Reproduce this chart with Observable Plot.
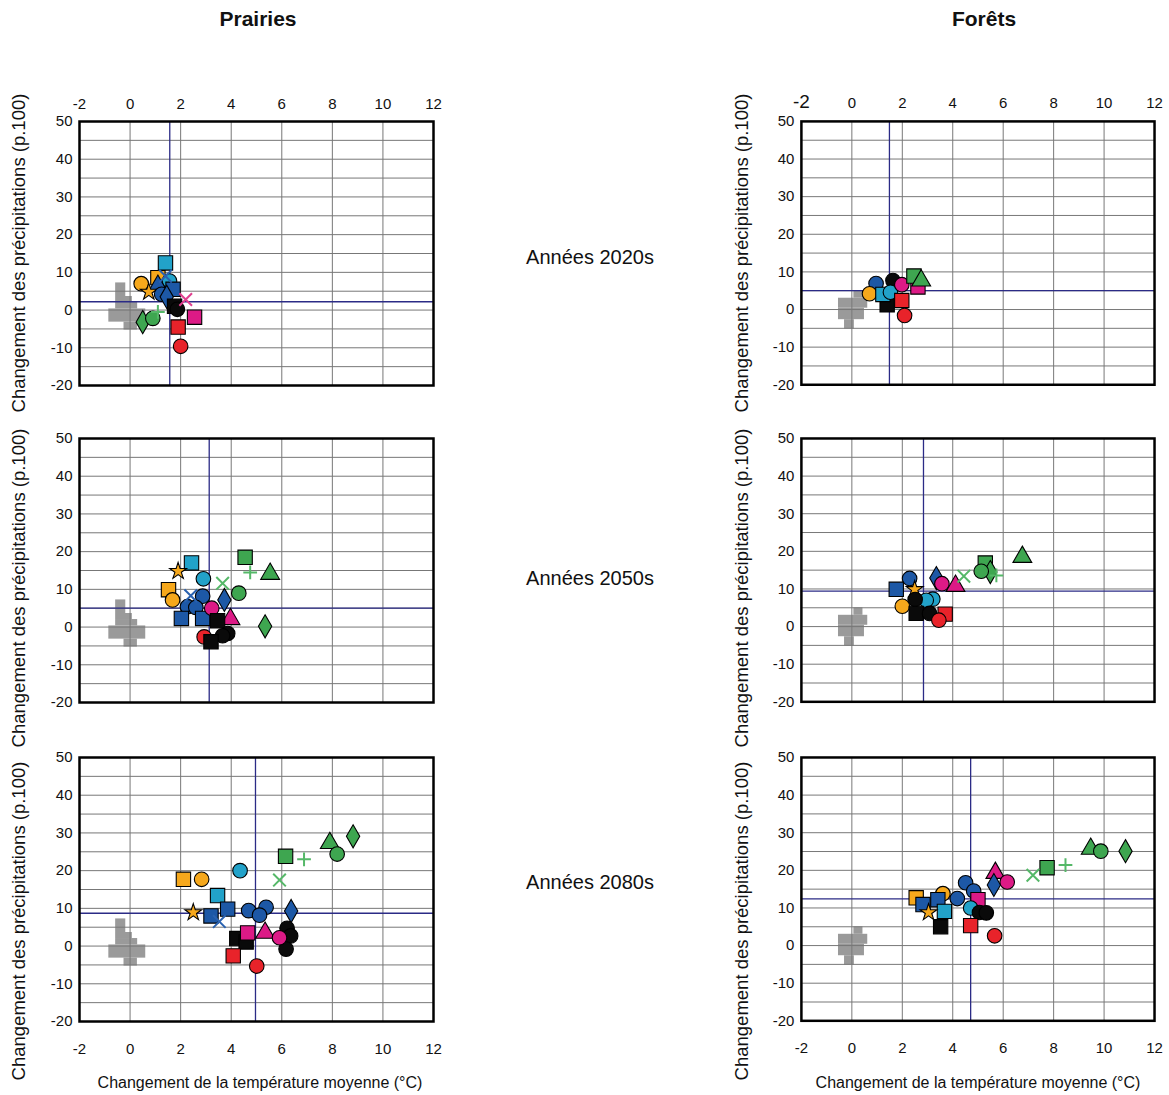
<!DOCTYPE html>
<html><head><meta charset="utf-8">
<script src="https://cdn.jsdelivr.net/npm/d3@7"></script>
<script src="https://cdn.jsdelivr.net/npm/@observablehq/plot@0.6"></script>
<style>
body{margin:0;background:#fff;font-family:"Liberation Sans",Arial,Helvetica,sans-serif;}
#root{position:relative;width:1169px;height:1095px;overflow:hidden;}
.abs{position:absolute;white-space:nowrap;color:#111;}
.title{font-weight:bold;font-size:21px;transform:translate(-50%,-50%);}
.period{font-size:20px;transform:translate(-50%,-50%);}
.ylab{font-size:18.5px;transform:translate(-50%,-50%) rotate(-90deg);}
.xlab{font-size:16px;transform:translate(-50%,-50%);}
.plotbox{position:absolute;}
.plotbox svg{overflow:visible;}
</style></head><body><div id="root"></div>
<script>
// ---------- axes / categories ----------
const xTicks = [-2, 0, 2, 4, 6, 8, 10, 12];
const yTicks = [-20, -10, 0, 10, 20, 30, 40, 50];
const xGrid = [0, 2, 4, 6, 8, 10];
const yGrid = [-15, -10, -5, 0, 5, 10, 15, 20, 25, 30, 35, 40, 45];
const columns = ["Prairies", "Forêts"];
const periods = ["Années 2020s", "Années 2050s", "Années 2080s"];
const yTitle = "Changement des précipitations (p.100)";
const xTitle = "Changement de la température moyenne (°C)";

// mean change (blue reference lines): temperature (°C), precipitation (%)
const meanTPrairies = [1.57, 3.13, 4.96];
const meanPPrairies = [2.2, 5.0, 8.7];
const meanTForets = [1.49, 2.84, 4.71];
const meanPForets = [5.0, 9.4, 12.4];

// natural variability region (gray), [T1, T2, P1, P2]
const blobPrairies = [
  [-0.57, -0.17, 3.6, 7.2],
  [-0.57, 0.09, 2.0, 3.6],
  [-0.57, 0.30, 0.3, 2.0],
  [-0.84, 0.62, -3.2, 0.3],
  [-0.24, 0.29, -5.3, -3.2]
];
const blobForets = [
  [0.08, 0.44, 3.0, 5.0],
  [-0.53, 0.63, 0.35, 3.0],
  [-0.53, 0.50, -2.7, 0.35],
  [-0.29, 0.10, -5.2, -2.7]
];

// scenario points: [model, T change, P change]
const prairies2020 = [
  ["G-diamond", 0.5, -3.2], ["G-circle", 0.9, -2.2], ["G-plus", 1.1, -0.5],
  ["O-circle", 0.44, 7.0], ["C-square", 1.4, 12.5], ["O-square", 1.1, 8.6],
  ["B-times", 1.4, 9.0], ["C-circle", 1.56, 7.7], ["B-triangle", 1.1, 6.4],
  ["O-star", 0.74, 4.8], ["B-square", 1.7, 5.5], ["B-circle", 1.25, 4.2],
  ["B-diamond", 1.45, 3.5], ["M-times", 2.2, 2.8], ["K-square", 1.76, 1.0],
  ["K-circle", 1.87, 0.2], ["M-square", 2.55, -1.9], ["R-square", 1.9, -4.5],
  ["R-circle", 2.0, -9.6]
];
const prairies2050 = [
  ["C-square", 2.43, 17.0], ["O-star", 1.9, 14.8], ["C-circle", 2.9, 12.8],
  ["G-times", 3.66, 11.6], ["G-square", 4.55, 18.5], ["G-plus", 4.75, 14.5],
  ["G-triangle", 5.54, 14.1], ["G-circle", 4.3, 9.0], ["G-diamond", 5.34, 0.2],
  ["O-square", 1.52, 9.9], ["O-circle", 1.68, 7.2], ["B-times", 2.4, 8.3],
  ["B-circle", 2.87, 8.2], ["B-circle", 2.27, 5.4], ["B-circle", 2.6, 5.2],
  ["B-diamond", 3.73, 7.2], ["B-square", 2.03, 2.3], ["B-square", 2.87, 2.3],
  ["M-circle", 3.23, 5.0], ["M-triangle", 3.97, 2.1], ["K-square", 3.46, 1.7],
  ["K-circle", 3.86, -1.7], ["K-circle", 3.66, -2.3], ["R-circle", 2.93, -2.6],
  ["K-square", 3.2, -3.9]
];
const prairies2080 = [
  ["G-diamond", 8.82, 29.1], ["G-triangle", 7.9, 27.3], ["G-circle", 8.19, 24.4],
  ["G-square", 6.15, 23.8], ["G-plus", 6.88, 23.0], ["G-times", 5.91, 17.5],
  ["C-circle", 4.35, 20.0], ["O-square", 2.11, 17.7], ["O-circle", 2.83, 17.7],
  ["C-square", 3.46, 13.4], ["O-star", 2.5, 8.9], ["B-square", 3.2, 8.0],
  ["B-square", 3.86, 9.8], ["B-times", 3.53, 6.5], ["B-circle", 4.69, 9.4],
  ["B-circle", 5.38, 10.3], ["B-circle", 5.12, 8.2], ["B-diamond", 6.37, 9.3],
  ["K-square", 4.22, 2.0], ["K-square", 4.59, 1.1], ["M-square", 4.65, 3.5],
  ["M-triangle", 5.34, 3.5], ["K-circle", 6.21, 4.7], ["K-circle", 6.35, 2.7],
  ["K-circle", 6.17, -0.8], ["M-circle", 5.91, 2.2], ["R-square", 4.08, -2.6],
  ["R-circle", 5.01, -5.3]
];
const forets2020 = [
  ["B-circle", 0.96, 6.9], ["O-circle", 0.7, 4.2], ["K-square", 1.4, 1.25],
  ["C-square", 1.23, 4.0], ["K-circle", 1.63, 7.7], ["C-circle", 1.53, 4.6],
  ["R-square", 1.98, 2.4], ["M-circle", 1.98, 6.6], ["R-circle", 2.09, -1.6],
  ["M-square", 2.62, 6.0], ["G-square", 2.46, 8.9], ["G-triangle", 2.75, 7.7]
];
const forets2050 = [
  ["G-triangle", 6.76, 18.5], ["G-square", 5.29, 16.9], ["G-diamond", 5.49, 14.5],
  ["G-circle", 5.13, 14.7], ["G-plus", 5.73, 13.6], ["G-times", 4.44, 13.4],
  ["B-diamond", 3.35, 12.9], ["M-circle", 3.57, 11.4], ["M-triangle", 4.11, 10.8],
  ["B-circle", 2.29, 12.8], ["B-square", 1.76, 9.9], ["O-star", 2.49, 9.9],
  ["C-circle", 3.21, 7.3], ["C-circle", 2.95, 7.0], ["K-circle", 2.51, 7.2],
  ["O-circle", 2.0, 5.4], ["K-square", 2.55, 3.5], ["K-circle", 3.08, 3.5],
  ["R-square", 3.7, 3.3], ["R-circle", 3.45, 1.7]
];
const forets2080 = [
  ["G-diamond", 10.85, 25.1], ["G-triangle", 9.47, 25.7], ["G-circle", 9.87, 25.1],
  ["G-square", 7.74, 20.7], ["G-plus", 8.47, 21.4], ["G-times", 7.18, 18.7],
  ["M-triangle", 5.69, 19.3], ["B-diamond", 5.63, 16.1], ["M-circle", 6.16, 16.9],
  ["B-circle", 4.51, 16.7], ["B-circle", 4.83, 14.5], ["B-circle", 4.18, 12.5],
  ["O-square", 2.55, 12.7], ["O-circle", 3.61, 13.8], ["B-square", 2.82, 10.9],
  ["B-square", 3.41, 12.2], ["M-square", 5.0, 12.2], ["C-circle", 4.71, 10.0],
  ["C-square", 3.67, 9.1], ["O-star", 3.04, 8.8], ["K-circle", 5.06, 8.8],
  ["K-circle", 5.33, 8.7], ["K-square", 3.52, 5.0], ["R-square", 4.71, 5.3],
  ["R-circle", 5.66, 2.6]
];

// ---------- styles ----------
const palette = {O: "#f6a81c", C: "#22a2c9", B: "#1d58a6", G: "#3ea650", M: "#dc1a86", R: "#e8232a", K: "#0a0a0a"};
const strokePalette = {G: "#55b868", B: "#2a62b0", M: "#e0408f"};
const symbolSize = {circle: 7.3, square: 8.1, triangle: 7.0, diamond: 7.0, star: 5.3, plus: 4.5, times: 5.8};
const strokeShapes = new Set(["plus", "times"]);
const colorOf = d => d[0].split("-")[0];
const shapeOf = d => d[0].split("-")[1];

const FONT = '"Liberation Sans", Arial, Helvetica, sans-serif';
const frameLeft = [79, 801];
const frameTop = [121, 438, 757];
const frameW = 354, frameH = 264;
const mL = 40, mR = 15;
const mTop = [35, 10, 10], mBot = [10, 10, 40];
const yTitleCenter = [253, 588, 921];

const root = document.getElementById("root");
function addText(cls, txt, x, y) {
  const el = document.createElement("div");
  el.className = "abs " + cls;
  el.textContent = txt;
  el.style.left = x + "px";
  el.style.top = y + "px";
  root.appendChild(el);
}

function panel(points, blob, mT, mP, row, col) {
  const filled = points.filter(d => !strokeShapes.has(shapeOf(d)));
  const strokes = points.filter(d => strokeShapes.has(shapeOf(d)));
  const svg = Plot.plot({
    width: mL + frameW + mR,
    height: mTop[row] + frameH + mBot[row],
    marginLeft: mL, marginRight: mR, marginTop: mTop[row], marginBottom: mBot[row],
    style: {fontSize: "15px", fontFamily: FONT, color: "#111", background: "transparent", overflow: "visible"},
    x: {domain: [-2, 12], ticks: xTicks, tickSize: 0, tickPadding: row === 2 ? 22 : 13,
        axis: row === 0 ? "top" : row === 2 ? "bottom" : null, label: null, tickFormat: d => String(d)},
    y: {domain: [-20, 50], ticks: yTicks, tickSize: 0, tickPadding: 7, label: null, tickFormat: d => String(d)},
    color: {type: "identity"},
    r: {type: "identity"},
    marks: [
      Plot.rect(blob, {x1: d => d[0], x2: d => d[1], y1: d => d[2], y2: d => d[3], fill: "#9a9a9a"}),
      Plot.ruleX(xGrid, {stroke: "#777", strokeWidth: 1}),
      Plot.ruleY(yGrid, {stroke: "#777", strokeWidth: 1}),
      Plot.ruleX([mT], {stroke: "#2b2b86", strokeWidth: 1.3}),
      Plot.ruleY([mP], {stroke: "#2b2b86", strokeWidth: 1.3}),
      Plot.dot(filled, {
        x: d => d[1], y: d => d[2], symbol: shapeOf, r: d => symbolSize[shapeOf(d)],
        fill: d => palette[colorOf(d)], stroke: "#000", strokeWidth: 1.1, sort: null
      }),
      Plot.dot(strokes, {
        x: d => d[1], y: d => d[2], symbol: shapeOf, r: d => symbolSize[shapeOf(d)],
        stroke: d => strokePalette[colorOf(d)] || palette[colorOf(d)], fill: "none", strokeWidth: 2, sort: null
      }),
      Plot.frame({stroke: "#000", strokeWidth: 2.5})
    ]
  });
  if (row === 0 && col === 1) {
    d3.select(svg).selectAll("text").filter(function() { return this.textContent === "-2"; })
      .style("font-size", "19px");
  }
  const box = document.createElement("div");
  box.className = "plotbox";
  box.style.left = (frameLeft[col] - mL) + "px";
  box.style.top = (frameTop[row] - mTop[row]) + "px";
  box.appendChild(svg);
  root.appendChild(box);
}

const prairiesData = [prairies2020, prairies2050, prairies2080];
const foretsData = [forets2020, forets2050, forets2080];
for (let r = 0; r < 3; r++) {
  panel(prairiesData[r], blobPrairies, meanTPrairies[r], meanPPrairies[r], r, 0);
  panel(foretsData[r], blobForets, meanTForets[r], meanPForets[r], r, 1);
}

// text labels
addText("title", columns[0], 258, 19);
addText("title", columns[1], 984, 19);
const periodY = [257, 578, 882];
periods.forEach((p, i) => addText("period", p, 590, periodY[i]));
for (let r = 0; r < 3; r++) {
  addText("ylab", yTitle, 19, yTitleCenter[r]);
  addText("ylab", yTitle, 742, yTitleCenter[r]);
}
addText("xlab", xTitle, 260, 1083);
addText("xlab", xTitle, 978, 1083);
</script></body></html>
